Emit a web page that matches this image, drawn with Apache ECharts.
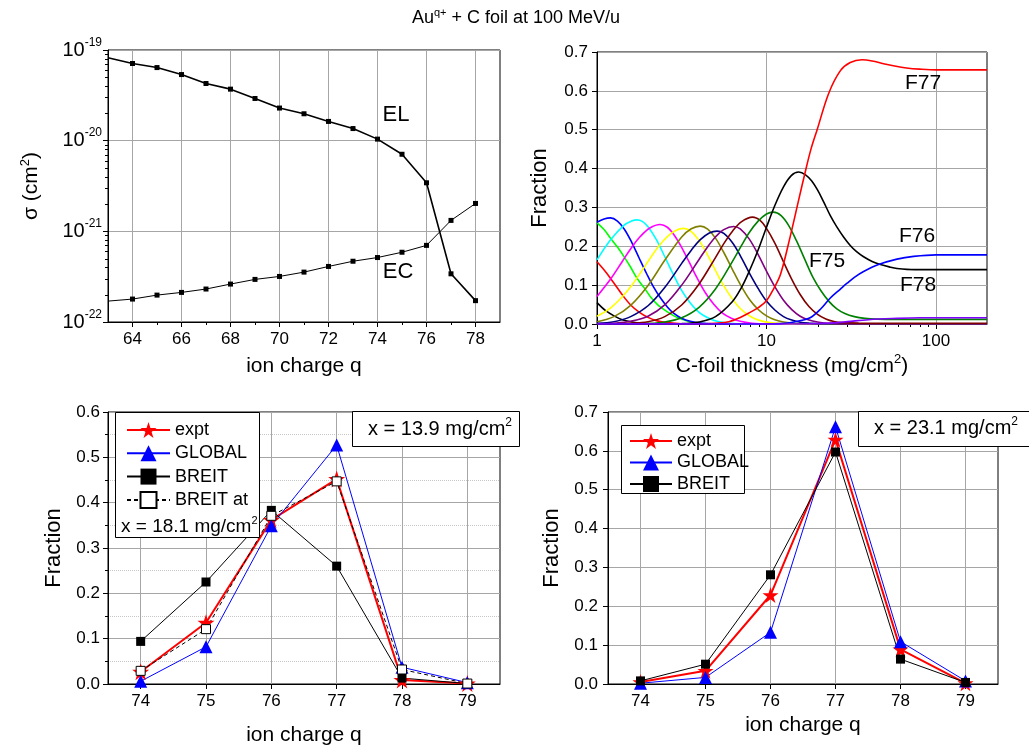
<!DOCTYPE html>
<html>
<head>
<meta charset="utf-8">
<script src="https://cdn.jsdelivr.net/npm/echarts@6/dist/echarts.min.js"></script>
<style>
html, body { margin: 0; padding: 0; background: #fff; }
#chart { width: 1029px; height: 748px; }
</style>
</head>
<body>
<div id="chart"></div>
<script>
// ---------- data ----------
// Cross sections vs. ion charge (cm^2)
const chargeQ = [63, 64, 65, 66, 67, 68, 69, 70, 71, 72, 73, 74, 75, 76, 77, 78];
const elSigma = [8.2e-20, 7.1e-20, 6.4e-20, 5.36e-20, 4.27e-20, 3.7e-20, 2.92e-20, 2.29e-20, 1.98e-20, 1.63e-20, 1.36e-20, 1.04e-20, 7.08e-21, 3.43e-21, 3.4e-22, 1.72e-22];
const ecSigma = [1.7e-22, 1.79e-22, 1.98e-22, 2.12e-22, 2.31e-22, 2.62e-22, 2.95e-22, 3.18e-22, 3.55e-22, 4.1e-22, 4.68e-22, 5.14e-22, 5.88e-22, 7.0e-22, 1.32e-21, 2.03e-21];
const qMajorTicks = [64, 66, 68, 70, 72, 74, 76, 78];
const qMinorTicks = [65, 67, 69, 71, 73, 75, 77];
const sigmaDecades = [1e-22, 1e-21, 1e-20, 1e-19];

// Charge-state fractions vs. C-foil thickness (mg/cm^2): [thickness, fraction]
const f64 = [[1,0.055],[1.12,0.035],[1.26,0.021],[1.41,0.011],[1.58,0.0056],[1.78,0.0025],[2,0.0011],[2.51,0.0002],[3.2,0],[200,0]];
const f65 = [[1,0.16],[1.12,0.135],[1.26,0.105],[1.41,0.075],[1.58,0.049],[1.78,0.03],[2,0.017],[2.24,0.0087],[2.51,0.0041],[3.16,0.0007],[4,0],[200,0]];
const f66 = [[1,0.26],[1.1,0.243],[1.2,0.221],[1.32,0.198],[1.44,0.174],[1.58,0.146],[1.72,0.118],[1.9,0.093],[2.06,0.071],[2.3,0.048],[2.59,0.032],[2.9,0.019],[3.24,0.011],[3.6,0.005],[4,0.002],[5,0],[200,0]];
const f67 = [[1,0.262],[1.1,0.27],[1.2,0.273],[1.32,0.265],[1.45,0.244],[1.6,0.211],[1.78,0.168],[1.97,0.128],[2.15,0.096],[2.36,0.068],[2.6,0.044],[2.83,0.028],[3.15,0.015],[3.55,0.007],[4.2,0.002],[5.5,0],[200,0]];
const f68 = [[1,0.165],[1.2,0.216],[1.44,0.254],[1.6,0.265],[1.72,0.268],[1.85,0.264],[2,0.25],[2.24,0.217],[2.5,0.175],[2.8,0.13],[3.15,0.087],[3.55,0.054],[4,0.03],[4.5,0.016],[5.1,0.007],[6,0.002],[7.5,0],[200,0]];
const f69 = [[1,0.071],[1.2,0.115],[1.41,0.161],[1.6,0.197],[1.8,0.225],[2.05,0.247],[2.36,0.256],[2.6,0.249],[2.85,0.229],[3.15,0.198],[3.5,0.159],[3.9,0.118],[4.35,0.081],[4.9,0.05],[5.5,0.028],[6.2,0.015],[7,0.007],[8.2,0.002],[10,0],[200,0]];
const f70 = [[1,0.02],[1.2,0.041],[1.41,0.07],[1.6,0.099],[1.8,0.131],[2.05,0.168],[2.3,0.199],[2.6,0.225],[2.9,0.24],[3.24,0.246],[3.6,0.238],[4,0.215],[4.45,0.181],[5,0.138],[5.6,0.098],[6.3,0.064],[7,0.04],[8,0.02],[9,0.01],[10.5,0.0035],[12.5,0.001],[15,0],[200,0]];
const f71 = [[1,0.006],[1.26,0.019],[1.58,0.048],[2,0.099],[2.51,0.164],[3.16,0.224],[3.6,0.245],[4.07,0.252],[4.5,0.244],[5,0.221],[5.6,0.184],[6.3,0.14],[7,0.102],[8,0.061],[9,0.036],[10,0.021],[11.2,0.011],[12.6,0.005],[14.5,0.002],[17,0],[200,0]];
const f72 = [[1,0.002],[1.26,0.006],[1.58,0.019],[2,0.047],[2.51,0.094],[3.16,0.156],[3.6,0.19],[4.07,0.217],[4.6,0.234],[5.1,0.239],[5.6,0.233],[6.3,0.209],[7,0.176],[8,0.128],[9,0.089],[10,0.059],[11.2,0.036],[12.6,0.019],[14.1,0.01],[15.8,0.0045],[18,0.002],[22,0],[200,0]];
const f73 = [[1,0],[1.26,0.002],[1.58,0.007],[2,0.02],[2.51,0.049],[3.16,0.1],[4,0.166],[4.5,0.199],[5,0.224],[5.6,0.243],[6.4,0.251],[7,0.245],[7.9,0.219],[8.9,0.18],[10,0.136],[11.2,0.096],[12.6,0.061],[14.1,0.037],[15.8,0.02],[17.8,0.01],[20,0.005],[23,0.002],[28,0],[200,0]];
const f74 = [[1,0],[1.58,0.002],[2,0.006],[2.51,0.019],[3.16,0.049],[4,0.103],[5,0.171],[5.6,0.207],[6.3,0.239],[7.1,0.263],[8.28,0.275],[9.2,0.266],[10,0.246],[11.2,0.208],[12.6,0.16],[14.1,0.115],[15.8,0.076],[17.8,0.045],[20,0.025],[22.4,0.013],[25,0.0065],[28,0.0035],[35,0.0022],[60,0.002],[200,0.002]];
const f75 = [[1,0],[1.58,0],[2,0.001],[2.51,0.005],[3.16,0.016],[4,0.043],[5,0.09],[6.3,0.161],[7.1,0.201],[7.9,0.235],[8.9,0.264],[10,0.283],[11,0.288],[12.2,0.279],[13.5,0.254],[15,0.215],[16.8,0.167],[18.8,0.12],[21,0.085],[23.5,0.057],[26,0.039],[29,0.027],[33,0.019],[38,0.0145],[45,0.0125],[60,0.012],[200,0.012]];
const f76 = [[1,0],[3.16,0.001],[4,0.005],[5,0.019],[6.3,0.058],[7.1,0.093],[7.9,0.135],[8.9,0.189],[10,0.249],[11.2,0.305],[12.6,0.353],[14,0.382],[15.5,0.391],[17,0.384],[18.5,0.368],[20,0.345],[21.7,0.315],[23.8,0.279],[26,0.25],[28.5,0.224],[31.2,0.202],[34,0.186],[37.4,0.173],[42,0.161],[47,0.153],[53,0.147],[58.9,0.143],[75,0.14],[100,0.14],[200,0.14]];
const f77 = [[1,0],[4,0],[5,0.002],[6,0.006],[7,0.017],[8,0.03],[9,0.043],[10,0.06],[11,0.09],[12.1,0.128],[13.8,0.225],[15.5,0.32],[16.9,0.39],[18.3,0.45],[19.9,0.5],[23.3,0.594],[27.3,0.652],[31.2,0.673],[36.6,0.68],[42,0.677],[49,0.67],[57,0.664],[67,0.659],[80,0.656],[101,0.654],[200,0.654]];
const f78 = [[1,0],[10,0],[12.1,0.001],[14,0.004],[16,0.009],[18.1,0.016],[20.8,0.038],[23.8,0.067],[27.3,0.09],[29.9,0.105],[33,0.12],[37.4,0.135],[45.8,0.153],[58.9,0.167],[73.8,0.174],[100,0.178],[200,0.178]];
const f79 = [[1,0],[15,0],[20,0.001],[25,0.003],[30,0.006],[40,0.011],[55,0.014],[80,0.016],[200,0.016]];
const thicknessMajorTicks = [1, 10, 100];
const thicknessMinorTicks = [2, 3, 4, 5, 6, 7, 8, 9, 20, 30, 40, 50, 60, 70, 80, 90];

// Charge-state distributions at fixed thickness
const chargeStates = [74, 75, 76, 77, 78, 79];
const expt139 = [0.027, 0.135, 0.362, 0.452, 0.009, 0.001];
const global139 = [0.006, 0.082, 0.349, 0.527, 0.037, 0.003];
const breit139 = [0.094, 0.225, 0.383, 0.26, 0.013, 0.001];
const breitAt181 = [0.029, 0.121, 0.371, 0.447, 0.032, 0.001];
const expt231 = [0.005, 0.034, 0.229, 0.629, 0.089, 0.002];
const global231 = [0.002, 0.017, 0.133, 0.662, 0.109, 0.008];
const breit231 = [0.008, 0.051, 0.281, 0.597, 0.064, 0.004];

// ---------- styling helpers ----------
const FONT = '"Liberation Sans", Arial, Helvetica, sans-serif';
const INK = '#000';
const GRIDLINE = '#a6a6a6';
const STAR = 'path://M50,2 L61.8,37.6 L99,37.6 L68.9,59.5 L80.3,95 L50,73 L19.7,95 L31.1,59.5 L1,37.6 L38.2,37.6 Z';

// rich-text styles: "b" = base text, "s" = superscript raised to the top of the line box
function richSup(size, supSize, lineH) {
  return {
    b: { fontSize: size, lineHeight: lineH, fontFamily: FONT, color: INK },
    s: { fontSize: supSize, lineHeight: supSize, verticalAlign: 'top', fontFamily: FONT, color: INK }
  };
}

function pairs(xs, ys) { return xs.map((x, i) => [x, ys[i]]); }

function baseAxis(extra) {
  return Object.assign({
    axisLine: { show: true, onZero: false, lineStyle: { color: INK, width: 1 } },
    axisTick: { show: true, length: 5, lineStyle: { color: INK, width: 1 } },
    axisLabel: { color: INK, fontSize: 17, fontFamily: FONT, margin: 8 },
    splitLine: { show: true, lineStyle: { color: GRIDLINE, width: 1 } },
    nameLocation: 'middle',
    nameTextStyle: { color: INK, fontSize: 21, fontFamily: FONT }
  }, extra);
}

// short outward tick marks drawn through the axis scales
function tickMarks(xi, yi, data, dir, len) {
  return {
    type: 'custom', xAxisIndex: xi, yAxisIndex: yi, silent: true, clip: false, z: 3,
    data: data, encode: { x: 0, y: 1 },
    renderItem(params, api) {
      const cs = params.coordSys;
      const p = api.coord([api.value(0), api.value(1)]);
      let shape;
      if (dir === 'x') {
        const x = Math.round(p[0]) + 0.5, y0 = cs.y + cs.height;
        shape = { x1: x, y1: y0, x2: x, y2: y0 + len };
      } else {
        const y = Math.round(p[1]) + 0.5, x0 = cs.x;
        shape = { x1: x0, y1: y, x2: x0 - len, y2: y };
      }
      return { type: 'line', shape: shape, style: { stroke: INK, lineWidth: 1 } };
    }
  };
}

const sigmaMinor = [];
sigmaDecades.slice(0, 3).forEach(d => { for (let m = 2; m <= 9; m++) sigmaMinor.push([chargeQ[0], m * d]); });

// ---------- series ----------
function sigmaSeries(name, values, width) {
  return {
    name: name, type: 'line', xAxisIndex: 0, yAxisIndex: 0,
    data: chargeQ.map((q, i) => i === 0 ? { value: [q, values[i]], symbol: 'none' } : [q, values[i]]),
    symbol: 'rect', symbolSize: 5,
    lineStyle: { color: INK, width: width }, itemStyle: { color: INK }
  };
}

const fractionCurves = [
  ['F64', f64, '#000000'], ['F65', f65, '#ff0000'], ['F66', f66, '#00ff00'], ['F67', f67, '#0000ff'],
  ['F68', f68, '#00ffff'], ['F69', f69, '#ff00ff'], ['F70', f70, '#ffff00'], ['F71', f71, '#808000'],
  ['F72', f72, '#000080'], ['F73', f73, '#800080'], ['F74', f74, '#800000'], ['F75', f75, '#008000'],
  ['F76', f76, '#000000'], ['F77', f77, '#ff0000'], ['F78', f78, '#0000ff'], ['F79', f79, '#8000ff']
].map(([name, data, color]) => ({
  name: name, type: 'line', xAxisIndex: 1, yAxisIndex: 1, data: data,
  showSymbol: false, smooth: 0.35, lineStyle: { color: color, width: 1.6 }, itemStyle: { color: color }
}));

function distSeries(gi, name, values, kind) {
  const s = { name: name, type: 'line', xAxisIndex: gi, yAxisIndex: gi, data: pairs(chargeStates, values) };
  if (kind === 'expt') Object.assign(s, { symbol: STAR, symbolSize: gi === 2 ? 17 : 16, lineStyle: { color: '#ff0000', width: 2 }, itemStyle: { color: '#ff0000' } });
  if (kind === 'global') Object.assign(s, { symbol: 'triangle', symbolSize: 13, lineStyle: { color: '#0000ff', width: 1 }, itemStyle: { color: '#0000ff' } });
  if (kind === 'breit') Object.assign(s, { symbol: 'rect', symbolSize: 9, lineStyle: { color: INK, width: 1 }, itemStyle: { color: INK } });
  if (kind === 'breitAt') Object.assign(s, { symbol: 'rect', symbolSize: 9, lineStyle: { color: INK, width: 1, type: [4, 3] }, itemStyle: { color: '#ffffff', borderColor: INK, borderWidth: 1 } });
  return s;
}

// ---------- annotations ----------
function label(text, x, y, size) {
  return { type: 'text', x: x, y: y, z: 20, style: { text: text, fontSize: size, fontFamily: FONT, fill: INK, align: 'center', verticalAlign: 'middle' } };
}
function richLabel(text, x, y, size, supSize, lineH, align) {
  return { type: 'text', x: x, y: y, z: 20, style: { text: text, rich: richSup(size, supSize, lineH), fontSize: size, fontFamily: FONT, fill: INK, align: align || 'center', verticalAlign: 'middle' } };
}
function box(x, y, w, h) {
  return { type: 'rect', z: 15, shape: { x: x + 0.5, y: y + 0.5, width: w, height: h }, style: { fill: '#ffffff', stroke: INK, lineWidth: 1 } };
}

const gridBase = { show: true, borderColor: INK, borderWidth: 1, backgroundColor: 'transparent', containLabel: false, outerBoundsMode: 'none' };

const option = {
  animation: false,
  backgroundColor: '#ffffff',
  textStyle: { fontFamily: FONT, color: INK },
  grid: [
    Object.assign({ left: 108, top: 50, width: 392, height: 272 }, gridBase),
    Object.assign({ left: 597, top: 52, width: 390, height: 272 }, gridBase),
    Object.assign({ left: 108, top: 412, width: 392, height: 272 }, gridBase),
    Object.assign({ left: 608, top: 412, width: 390, height: 272 }, gridBase)
  ],
  xAxis: [
    baseAxis({ gridIndex: 0, type: 'value', min: 63, max: 79, name: 'ion charge q', nameGap: 34,
      axisTick: { show: true, length: 5, customValues: qMajorTicks, lineStyle: { color: INK } },
      axisLabel: { color: INK, fontSize: 17, fontFamily: FONT, margin: 9, customValues: qMajorTicks } }),
    baseAxis({ gridIndex: 1, type: 'log', logBase: 10, min: 1, max: 200,
      name: '{b|C-foil thickness (mg/cm}{s|2}{b|)}', nameGap: 29,
      nameTextStyle: { rich: richSup(21, 13, 26) },
      axisTick: { show: true, length: 5, customValues: thicknessMajorTicks, lineStyle: { color: INK } },
      axisLabel: { color: INK, fontSize: 17, fontFamily: FONT, margin: 9, customValues: thicknessMajorTicks } }),
    baseAxis({ gridIndex: 2, type: 'value', min: 73.5, max: 79.5, name: 'ion charge q', nameGap: 41,
      axisTick: { show: true, length: 5, customValues: chargeStates, lineStyle: { color: INK } },
      axisLabel: { color: INK, fontSize: 17, fontFamily: FONT, margin: 9, customValues: chargeStates } }),
    baseAxis({ gridIndex: 3, type: 'value', min: 73.5, max: 79.5, name: 'ion charge q', nameGap: 31,
      axisTick: { show: true, length: 5, customValues: chargeStates, lineStyle: { color: INK } },
      axisLabel: { color: INK, fontSize: 17, fontFamily: FONT, margin: 9, customValues: chargeStates } })
  ],
  yAxis: [
    baseAxis({ gridIndex: 0, type: 'log', logBase: 10, min: 1e-22, max: 1e-19,
      name: '{b|σ (cm}{s|2}{b|)}', nameGap: 64, nameTextStyle: { rich: richSup(21, 13, 25) },
      axisTick: { show: true, length: 5, customValues: sigmaDecades, lineStyle: { color: INK } },
      axisLabel: { margin: 6, customValues: sigmaDecades, rich: richSup(20, 12, 27),
        formatter: v => '{b|10}{s|' + Math.round(Math.log10(v)) + '}' } }),
    baseAxis({ gridIndex: 1, type: 'value', min: 0, max: 0.7, interval: 0.1, name: 'Fraction', nameGap: 46,
      nameTextStyle: { color: INK, fontSize: 22, fontFamily: FONT },
      axisLabel: { color: INK, fontSize: 17, fontFamily: FONT, margin: 9, formatter: v => v.toFixed(1) } }),
    baseAxis({ gridIndex: 2, type: 'value', min: 0, max: 0.6, interval: 0.1, name: 'Fraction', nameGap: 43,
      nameTextStyle: { color: INK, fontSize: 22, fontFamily: FONT },
      minorTick: { show: true, splitNumber: 2, length: 3, lineStyle: { color: INK } },
      minorSplitLine: { show: true, lineStyle: { color: '#c8c8c8', type: 'dotted', width: 1 } },
      axisLabel: { color: INK, fontSize: 17, fontFamily: FONT, margin: 8, formatter: v => v.toFixed(1) } }),
    baseAxis({ gridIndex: 3, type: 'value', min: 0, max: 0.7, interval: 0.1, name: 'Fraction', nameGap: 45,
      nameTextStyle: { color: INK, fontSize: 22, fontFamily: FONT },
      axisLabel: { color: INK, fontSize: 17, fontFamily: FONT, margin: 10, formatter: v => v.toFixed(1) } })
  ],
  legend: [
    { data: ['expt', 'GLOBAL', 'BREIT', 'BREIT at'], orient: 'vertical', left: 121, top: 416, z: 30,
      itemWidth: 43, itemHeight: 20, itemGap: 5.3, selectedMode: false,
      textStyle: { color: INK, fontSize: 18, fontFamily: FONT } },
    { data: ['expt', 'GLOBAL', 'BREIT'], orient: 'vertical', left: 624, top: 427, z: 30,
      itemWidth: 42, itemHeight: 20, itemGap: 3.5, selectedMode: false,
      textStyle: { color: INK, fontSize: 18, fontFamily: FONT } }
  ],
  graphic: { elements: [
    richLabel('{b|Au}{s|q+}{b| + C foil at 100 MeV/u}', 516, 18, 18, 11, 22),
    label('EL', 396, 115, 22),
    label('EC', 398, 272, 22),
    label('F77', 923, 83, 21),
    label('F76', 917, 236, 21),
    label('F78', 918, 285, 21),
    label('F75', 827, 261, 21),
    box(115, 412, 144, 125),
    richLabel('{b|x = 18.1 mg/cm}{s|2}', 121, 527, 19, 11, 23, 'left'),
    box(352, 411, 167, 35),
    richLabel('{b|x = 13.9 mg/cm}{s|2}', 440, 429, 20, 12, 24),
    box(621, 425, 123, 68),
    box(858, 411, 172, 35),
    richLabel('{b|x = 23.1 mg/cm}{s|2}', 946, 428, 20, 12, 24)
  ] },
  series: [
    sigmaSeries('EL', elSigma, 1.6),
    sigmaSeries('EC', ecSigma, 1),
    tickMarks(0, 0, qMinorTicks.map(q => [q, sigmaDecades[0]]), 'x', 3),
    tickMarks(0, 0, sigmaMinor, 'y', 3),
    tickMarks(1, 1, thicknessMinorTicks.map(t => [t, 0]), 'x', 3)
  ].concat(fractionCurves).concat([
    distSeries(2, 'expt', expt139, 'expt'),
    distSeries(2, 'GLOBAL', global139, 'global'),
    distSeries(2, 'BREIT', breit139, 'breit'),
    distSeries(2, 'BREIT at', breitAt181, 'breitAt'),
    distSeries(3, 'expt', expt231, 'expt'),
    distSeries(3, 'GLOBAL', global231, 'global'),
    distSeries(3, 'BREIT', breit231, 'breit')
  ])
};

const chart = echarts.init(document.getElementById('chart'), null, { renderer: 'canvas' });
chart.setOption(option);
</script>
</body>
</html>
